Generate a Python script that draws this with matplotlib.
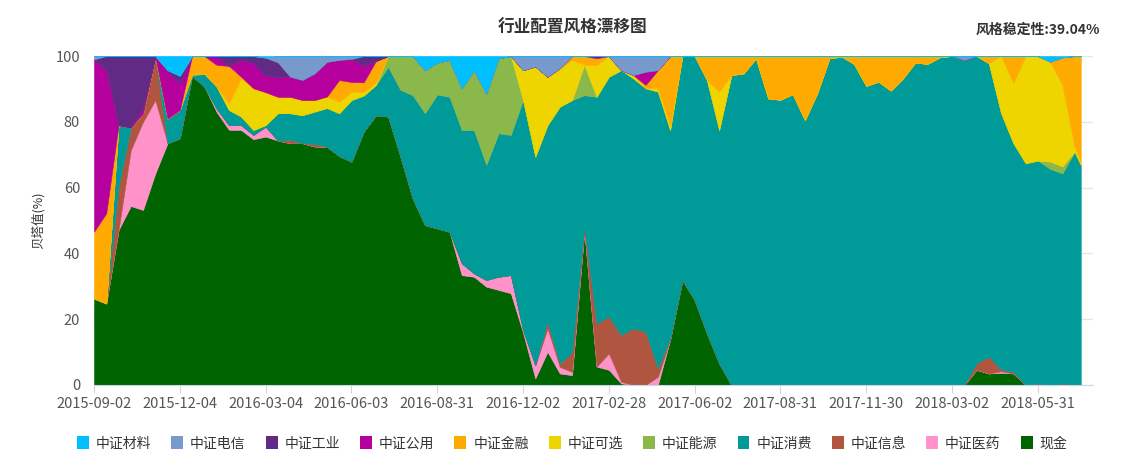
import matplotlib
matplotlib.use("Agg")
import matplotlib.pyplot as plt
from matplotlib.patches import Patch

plt.rcParams['font.family'] = ['Noto Sans CJK SC', 'DejaVu Sans']

# category positions of the sampled weeks (one category per week-ish)
n_categories = 164
sample_pos = list(range(0, 161, 2)) + [161]

tick_pos = [0, 14, 28, 42, 56, 70, 84, 98, 112, 126, 140, 154]
tick_labels = ['2015-09-02', '2015-12-04', '2016-03-04', '2016-06-03', '2016-08-31', '2016-12-02',
               '2017-02-28', '2017-06-02', '2017-08-31', '2017-11-30', '2018-03-02', '2018-05-31']

# values per series, % (bottom of the stack first)
cash = [26.3, 24.8, 47.1, 54.4, 53.2, 64.3, 73.5, 75.0, 94.0, 90.7, 83.0, 77.6, 77.5, 74.7, 75.5,
        74.3, 73.5, 73.5, 72.5, 72.4, 69.6, 67.9, 77.0, 82.0, 81.6, 69.4, 56.7, 48.6, 47.6, 46.6,
        33.4, 32.9, 29.9, 28.9, 27.9, 15.9, 2.0, 10.1, 3.5, 3.0, 47.0, 5.6, 4.6, 0.5, 0, 0, 0,
        13.7, 31.9, 25.8, 15.7, 6.6, 0] + [0] * 19 + [4.6, 3.5, 3.7, 3.5, 0, 0, 0, 0.5, 0, 0]
yiyao = [0, 0, 0, 17.0, 26.8, 22.3, 0, 0, 0, 0, 1.0, 1.4, 1.5, 1.3, 3.0] + [0] * 15 + \
        [3.6, 1.0, 2.0, 4.0, 5.5, 0.8, 4.0, 7.1, 2.0, 1.0, 0, 0, 5.0, 0.5, 0, 0, 2.5] + [0] * 27 + \
        [0.5] + [0] * 7
xinxi = [0, 0, 13.2, 6.9, 2.5, 13.2, 0, 0] + [0] * 8 + [1.0, 0, 0.8] + [0] * 18 + \
        [2.1, 1.0, 6.0, 1.0, 13.1, 11.2, 14.2, 17.2, 16.2, 2.6, 0.5] + [0] * 24 + \
        [2.0, 5.1, 0.5, 0.5, 0, 0.5, 0, 0, 0, 0]
xiaofei = [0, 0, 18.7, 0, 0, 0, 7.5, 8.6, 0, 4.0, 6.7, 4.6, 2.6, 1.5, 0.5, 8.3, 8.1, 8.5, 9.8,
           11.8, 13.0, 18.7, 11.0, 9.2, 15.1, 20.3, 31.4, 34.0, 40.7, 41.0, 40.5, 43.6, 35.0,
           43.6, 42.6, 69.9, 63.4, 59.7, 78.1, 76.6, 40.1, 68.9, 72.9, 80.5, 76.0, 74.0, 84.1,
           63.3, 68.1, 74.2, 77.0, 70.9, 94.2, 94.7, 99.3, 87.1, 86.7, 88.4, 80.5, 88.7, 99.3,
           99.8, 97.6, 90.9, 92.2, 89.5, 93.2, 98.0, 97.6, 99.6, 100, 98.8, 93.4, 89.2, 77.9,
           69.5, 67.4, 67.7, 65.7, 63.8, 70.9, 66.9]
nengyuan = [0] * 8 + [0.5] + [0] * 15 + \
           [3.3, 10.3, 11.9, 13.1, 9.7, 11.2, 12.7, 18.2, 21.7, 22.8, 24.0] + [0] * 5 + \
           [9.2] + [0] * 37 + [2.2, 2.1, 0, 0]
kexuan = [0] * 11 + [2.0, 11.6, 12.7, 10.0, 5.0, 5.0, 4.6, 3.5, 3.5, 3.5, 2.5, 1.0, 0.8] + \
         [0] * 11 + [9.1, 27.4, 14.7, 11.7, 12.2, 0, 9.7, 6.3, 0, 1.0, 0, 1.0, 1.5, 0, 0, 0, 11.7] + \
         [0] * 22 + [17.4, 18.2, 32.6, 31.8, 30.4, 24.8, 1.5, 1.0]
jinrong = [20.3, 27.4] + [0] * 6 + [5.5, 5.3, 6.6, 11.4, 0.5] + [0] * 7 + [6.6, 3.0, 3.0, 6.5] + \
          [0] * 15 + [1.2, 2.7, 2.0, 0, 0, 0, 1.0, 5.5, 21.0, 0, 0, 7.3, 10.8, 5.8, 5.3, 0.7,
                      12.9, 13.3, 11.6, 19.5, 11.3, 0.7, 0.2, 2.4, 9.1, 7.8, 10.5, 6.8, 2.0, 2.4,
                      0.4, 0, 0, 0, 2.2, 0, 8.3, 0, 0, 0, 8.4, 27.6, 32.1]
gongyong = [52.4, 43.5, 0, 0, 1.5, 0, 14.2, 8.1, 0, 0, 2.7, 0, 5.1, 7.6, 5.0, 6.0, 6.1, 6.1,
            8.1, 10.5, 6.1, 7.0, 5.0] + [0] * 18 + [0.7, 0, 0, 0, 4.0] + [0] * 36
gongye = [0, 4.3, 21.0, 21.7, 16.0, 0.2, 0.5, 2.3, 0, 0, 0, 3.0, 1.2, 2.2, 5.5, 4.5] + \
         [0] * 6 + [3.0, 1.5] + [0] * 58
dianxin = [1.0] + [0] * 14 + [1.9, 6.3, 7.3, 5.3, 1.8, 1.2, 0.9] + [0] * 13 + \
          [4.3, 3.2, 6.3, 3.7, 0, 0, 0, 0, 4.3, 5.8, 4.8, 4.3] + [0] * 24 + [1.2] + [0] * 10
cailiao = [0] * 6 + [4.3, 6.0] + [0] * 6 + [0.5] + [0] * 12 + \
          [4.3, 2.0, 1.2, 9.8, 4.3, 11.4, 0.7] + [0] * 44 + [1.7, 0.4, 0, 0]

legend_names = ['中证材料', '中证电信', '中证工业', '中证公用', '中证金融', '中证可选',
                '中证能源', '中证消费', '中证信息', '中证医药', '现金']
legend_colors = ['#00BFFF', '#7799CC', '#612A84', '#B5009E', '#FFAA00', '#EED500',
                 '#8BB84A', '#009A98', '#B05540', '#FF93C9', '#006400']

# stack goes bottom -> top, i.e. reverse of legend order
stack = [cash, yiyao, xinxi, xiaofei, nengyuan, kexuan, jinrong, gongyong, gongye, dianxin, cailiao]
stack_colors = legend_colors[::-1]

fig = plt.figure(figsize=(11.24, 4.71), dpi=100)
ax = fig.add_axes([94 / 1124, 1 - 385 / 471, (1093 - 94) / 1124, (385 - 56) / 471])

polys = ax.stackplot(sample_pos, *stack, colors=stack_colors, linewidth=0.4)
for p, c in zip(polys, stack_colors):
    p.set_edgecolor(c)

ax.set_xlim(0, n_categories - 1)
ax.set_ylim(0, 100)
ax.set_yticks([0, 20, 40, 60, 80, 100])
ax.yaxis.grid(True, color='#e6e6e6', linewidth=1)
ax.set_axisbelow(True)
ax.set_xticks(tick_pos)
ax.set_xticklabels(tick_labels)

for s in ['top', 'right', 'left']:
    ax.spines[s].set_visible(False)
ax.spines['bottom'].set_color('#ccd6eb')
ax.tick_params(axis='x', colors='#ccd6eb', length=6, labelcolor='#555555', labelsize=10.5, pad=3)
ax.tick_params(axis='y', length=0, labelcolor='#555555', labelsize=10.5, pad=10)

ax.set_ylabel('贝塔值(%)', fontsize=9, color='#333333', labelpad=8)

fig.text(0.509, 0.94, '行业配置风格漂移图', ha='center', va='center', fontsize=12,
         weight='bold', color='#333333')
fig.text(0.979, 0.937, '风格稳定性:39.04%', ha='right', va='center', fontsize=10,
         weight='bold', color='#333333')

handles = [Patch(facecolor=c, edgecolor='none') for c in legend_colors]
fig.legend(handles, legend_names, loc='center', bbox_to_anchor=(0.509, 0.059), ncol=11,
           frameon=False, fontsize=10, handlelength=0.85, handleheight=1.1, handletextpad=0.5,
           columnspacing=1.45, labelcolor='#333333')

fig.savefig('out.png', dpi=100)
